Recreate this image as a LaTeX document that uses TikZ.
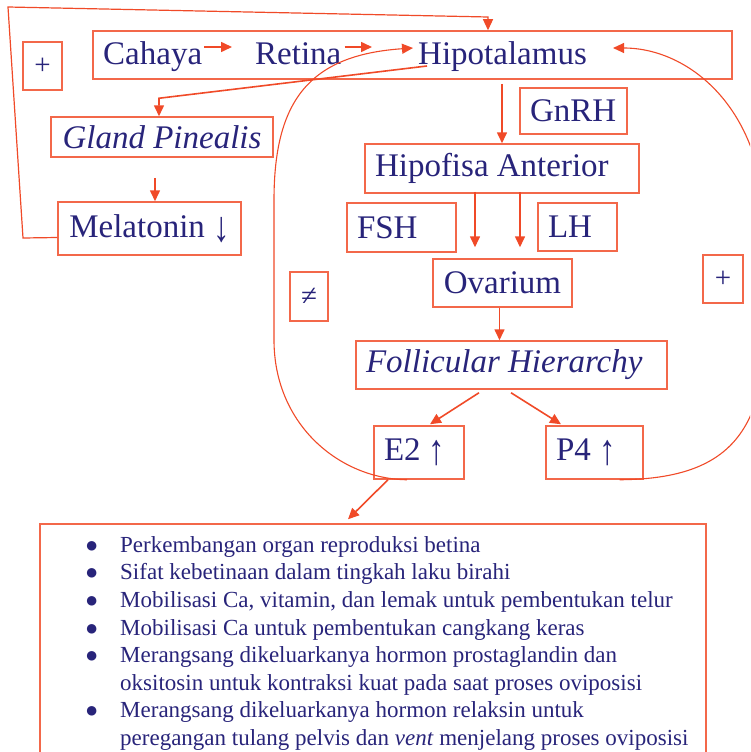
\documentclass[tikz,border=0pt]{standalone}
\usepackage{fontspec}
\setmainfont{Liberation Serif}
\usetikzlibrary{arrows.meta,calc}
\definecolor{txt}{RGB}{40,36,122}
\definecolor{boxc}{RGB}{243,104,74}
\definecolor{arrc}{RGB}{240,74,40}
\newcommand\fbig{\fontsize{33}{38}\selectfont}
\newcommand\fplus{\fontsize{29}{34}\selectfont}
\newcommand\flist{\fontsize{23}{27.6}\selectfont}
\newcommand\upar{\raisebox{-4pt}{\scalebox{1}[1.3]{↑}}}
\newcommand\downar{\raisebox{-4pt}{\scalebox{1}[1.3]{↓}}}
\newcommand\bul{{\fontsize{22}{22}\selectfont ●}}
\begin{document}
\begin{tikzpicture}[x=1pt,y=-1pt,
  bx/.style={draw=boxc, line width=1.5pt, inner xsep=10pt, inner ysep=0pt, text=txt, font=\fbig},
  cbx/.style={draw=boxc, line width=1.5pt, inner sep=0pt, text=txt, font=\fbig, align=center},
  lbl/.style={inner sep=0pt, text=txt, font=\fbig, anchor=base west},
  arr/.style={draw=arrc, line width=1.6pt, -{Triangle[length=11pt,width=10pt]}},
  fback/.style={draw=arrc, line width=1.2pt, -{Triangle[length=11pt,width=10pt]}},
  loopc/.style={draw=arrc, line width=1.1pt, -{Triangle[length=11pt,width=10pt]}}]
\useasboundingbox (0,0) rectangle (750,752);
\clip (0,0) rectangle (750,752);

% top box with its three labels
\node[cbx, minimum width=639pt, minimum height=48pt] (topbox) at (412.5,55) {};
\node[lbl] (cah) at (103,65) {Cahaya};
\node[lbl] (ret) at (255,65) {Retina};
\node[lbl] (hipt) at (418,65) {Hipotalamus};

% boxes
\node[cbx, minimum width=39pt, minimum height=48pt, font=\fplus] (plusL) at (42.5,66) {+};
\node[cbx, minimum width=222pt, minimum height=40pt] (gland) at (162,137) {\itshape Gland Pinealis};
\node[cbx, minimum width=183pt, minimum height=53pt] (mel) at (149.5,228.5) {Melatonin \downar};
\node[bx, minimum height=46pt] (gnrh) at (573.5,111) {\makebox[87pt][l]{GnRH}};
\node[bx, minimum height=49pt] (hipof) at (502,168.5) {\makebox[254pt][l]{Hipofisa Anterior}};
\node[bx, minimum height=49pt] (fsh) at (401.5,227.5) {\makebox[89pt][l]{FSH}};
\node[bx, minimum height=48pt] (lh) at (577.5,227) {\makebox[59pt][l]{LH}};
\node[cbx, minimum width=139pt, minimum height=48pt] (ov) at (502.5,283) {Ovarium};
\node[cbx, minimum width=38pt, minimum height=49pt, font=\fplus] (neq) at (309,296.5) {≠};
\node[cbx, minimum width=40pt, minimum height=48pt, font=\fplus] (plusR) at (723,279) {+};
\node[bx, minimum height=48pt] (fh) at (511.5,365) {\makebox[291pt][l]{\itshape Follicular Hierarchy}};
\node[bx, minimum height=53pt] (e2) at (419,452.5) {\makebox[70pt][l]{E2 \upar}};
\node[bx, minimum height=53pt] (p4) at (594.5,452.5) {\makebox[77pt][l]{P4 \upar}};
\node[cbx, minimum width=666pt, minimum height=300pt] (listbox) at (373,674) {};

\node[anchor=north west, inner sep=0pt, text=txt, font=\flist] (items) at (85,532.7) {%
\begin{tabular}{@{}p{35pt}@{}l@{}}
\bul & Perkembangan organ reproduksi betina\\
\bul & Sifat kebetinaan dalam tingkah laku birahi\\
\bul & Mobilisasi Ca, vitamin, dan lemak untuk pembentukan telur\\
\bul & Mobilisasi Ca untuk pembentukan cangkang keras\\
\bul & Merangsang dikeluarkanya hormon prostaglandin dan\\
 & oksitosin untuk kontraksi kuat pada saat proses oviposisi\\
\bul & Merangsang dikeluarkanya hormon relaksin untuk\\
 & peregangan tulang pelvis dan \textit{vent} menjelang proses oviposisi
\end{tabular}};

% connectors in the top box
\draw[arr] ($(cah.base east)+(2,-18)$) -- ($(ret.base west)+(-23,-18)$);
\draw[arr] ($(ret.base east)+(3,-18)$) -- ($(hipt.base west)+(-46,-18)$);

% hypothalamus to gland pinealis to melatonin
\draw[arr] ($(hipt.base west)+(9,1)$) -- ($(gland.north)+(-3,-18)$) -- ($(gland.north)+(-3,0)$);
\draw[arr] ($(gland.south)+(-7,20)$) -- ($(mel.north)+(5.5,0)$);

% melatonin feedback to hypothalamus
\coordinate (fb1) at (23,238);
\coordinate (fb2) at (8,7);
\coordinate (fb3) at (488,17);
\draw[fback] ($(mel.west)+(0,9)$) -- (fb1) -- (fb2) -- (fb3) -- (fb3 |- topbox.north);

% main axis
\draw[arr] ($(topbox.south -| hipof.north)+(0,4)$) -- (hipof.north);
\draw[arr] ($(hipof.south)+(-27,-2)$) -- ($(ov.north)+(-27.5,-11)$);
\draw[arr] ($(hipof.south)+(18,-2)$) -- ($(ov.north)+(17.5,-11)$);
\draw[arr] ($(ov.south)+(-3,0)$) -- ($(ov.south |- fh.north)+(-3,0)$);
\draw[arr] ($(fh.south)+(-32.5,3)$) -- ($(e2.north)+(11,-1)$);
\draw[arr] ($(fh.south)+(-0.5,3)$) -- ($(p4.north)+(-33.5,-1)$);
\draw[arr] ($(e2.south)+(-31,0)$) -- ($(listbox.north)+(-25,-4)$);

% feedback loops
\coordinate (l1) at (274,340);
\coordinate (l2) at (274,200);
\draw[loopc] ($(e2.south)+(-12,0)$) .. controls (340,479) and (274,425) .. (l1) -- (l2) .. controls (274,100) and (310,55) .. ($(hipt.base west)+(-5,-17)$);
\coordinate (r1) at (765,330);
\coordinate (r2) at (765,230);
\draw[loopc] ($(p4.south)+(25,0)$) .. controls (720,479) and (765,440) .. (r1) -- (r2) .. controls (765,110) and (690,48) .. ($(hipt.base east)+(26,-17)$);
\end{tikzpicture}
\end{document}
